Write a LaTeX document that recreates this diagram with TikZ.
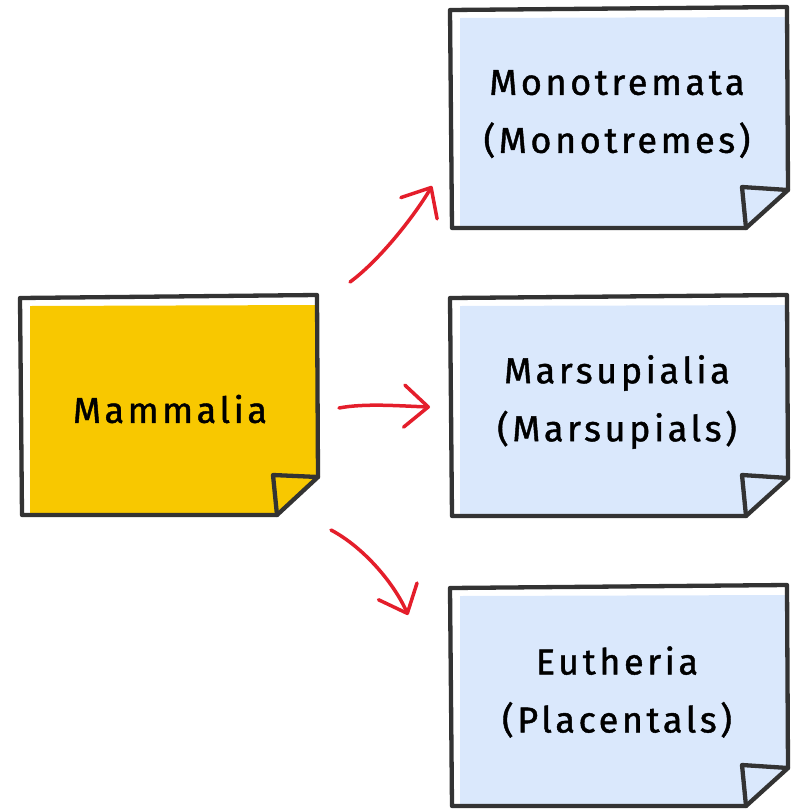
\documentclass[tikz,border=0pt]{standalone}
\usepackage{fontspec}
\setmainfont{Fira Sans}
\newfontfamily\handfont[LetterSpace=10,FakeBold=1.2]{Fira Sans}
\usetikzlibrary{arrows.meta}
\definecolor{ink}{HTML}{333333}
\definecolor{noteyellow}{HTML}{F8C800}
\definecolor{noteblue}{HTML}{DAE8FC}
\definecolor{arrowred}{HTML}{E41E2B}
\tikzset{
  outline/.style={draw=ink, line width=4.3pt, line join=round, line cap=round},
  notetext/.style={font=\handfont\fontsize{36}{58}\selectfont, align=center, text=black, inner sep=0pt},
  link/.style={draw=arrowred, line width=3.5pt, line cap=round,
    -{Straight Barb[length=24pt,width=42pt,line cap=round,line join=round]}},
}
\begin{document}
\begin{tikzpicture}[x=1pt,y=-1pt]
\useasboundingbox (0,0) rectangle (800,812);
% Mammalia note
\fill[noteyellow] (30,306) -- (318,305) -- (318,477) -- (277,515) -- (30,515) -- cycle;
\draw[outline] (22,515) -- (20,298) -- (317,295) -- (318,477) -- (277,515) -- cycle;
\draw[outline] (277,515) -- (273,475) -- (318,477);
\node[notetext] (mam) at (170,409) {Mammalia};
% blue notes
\foreach \dy in {0,288,578}{
  \begin{scope}[shift={(450,10+\dy)}]
    \fill[noteblue] (10,8) -- (338,7) -- (338,180) -- (296,218) -- (10,218) -- cycle;
    \draw[outline] (2,218) -- (0,0) -- (337,-3) -- (338,180) -- (296,218) -- cycle;
    \draw[outline] (296,218) -- (292,177) -- (338,180);
  \end{scope}
}
\node[notetext] (mono) at (617,114) {Monotremata\\(Monotremes)};
\node[notetext] (mars) at (617,402) {Marsupialia\\(Marsupials)};
\node[notetext] (euth) at (617,692) {Eutheria\\(Placentals)};
% connector end points
\coordinate (mamA) at (350,282);
\coordinate (mamB) at (339,408);
\coordinate (mamC) at (331,530);
\coordinate (monoIn) at (432,186);
\coordinate (marsIn) at (430,407);
\coordinate (euthIn) at (408,615);
\draw[link] (mamA) .. controls (380,260) and (415,215) .. (monoIn);
\draw[link] (mamB) .. controls (365,403) and (400,406) .. (marsIn);
\draw[link] (mamC) .. controls (365,548) and (395,585) .. (euthIn);
\end{tikzpicture}
\end{document}
